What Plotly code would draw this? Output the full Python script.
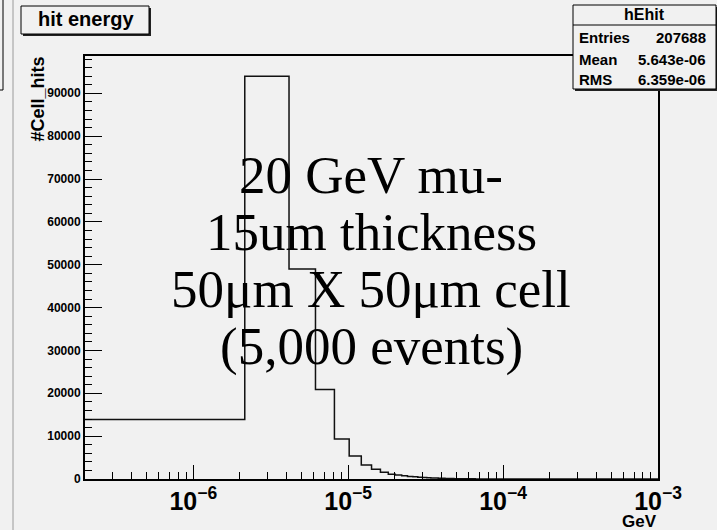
import plotly.graph_objects as go

# ---------------- data ----------------
bin_width = 2.0e-6        # GeV, histogram bin width
bin_low = 1.5e-7
counts = [13900, 94000, 49000, 20900, 9330, 5360, 3270, 2260, 1560, 1100,
          950, 760, 610, 500, 410, 340, 285, 240, 205, 175,
          150, 130, 113, 98, 86, 76, 67, 59, 52, 46,
          41, 37, 33, 29, 26, 23, 21, 19, 17, 15,
          13, 12, 11, 10, 9, 8, 7, 6, 6, 5,
          5, 4, 4, 3, 3, 3, 2, 2, 2, 2, 0]
x_axis_min = 2e-7
x_axis_max = 1e-3
y_axis_max = 98700
y_tick_vals = [0, 10000, 20000, 30000, 40000, 50000, 60000, 70000, 80000, 90000]
stats_name = "hEhit"
stats_rows = [("Entries", "207688"), ("Mean", "5.643e-06"), ("RMS", "6.359e-06")]
title_text = "hit energy"
x_title = "GeV"
y_title = "#Cell_hits"
big_text = ["20 GeV mu-", "15um thickness", "50\u03bcm X 50\u03bcm cell", "(5,000 events)"]

# ---------------- build step outline ----------------
edges = [bin_low + i * bin_width for i in range(len(counts) + 1)]
xs = [max(e, x_axis_min) for e in edges[:-1]] + [x_axis_max]
xs[0] = x_axis_min
ys = counts + [counts[-1]]

BG = "#f1f1f1"
L, R, T, B = 85, 658, 56, 479
W, H = R - L, B - T
def px(x):
    return (x - L) / W
def py(y):
    return (B - y) / H

fig = go.Figure()
fig.add_trace(go.Scatter(x=xs, y=ys, mode="lines", line=dict(shape="hv", color="#111111", width=1.5),
                         hoverinfo="skip", showlegend=False))

sans = "Liberation Sans, Arial, sans-serif"
serif = "Liberation Serif, Times New Roman, serif"

fig.update_layout(
    width=717, height=530,
    margin=dict(l=L, r=717 - R, t=T, b=530 - B),
    paper_bgcolor=BG, plot_bgcolor=BG,
    showlegend=False,
    xaxis=dict(type="log", range=[-6.69897, -3], dtick=1, exponentformat="power", showexponent="all",
               showgrid=False, zeroline=False, showline=True, mirror=True, linecolor="black", linewidth=1.5,
               ticks="inside", ticklen=14, tickcolor="black", tickwidth=1,
               minor=dict(dtick="D1", ticks="inside", ticklen=7, tickcolor="black", showgrid=False),
               tickfont=dict(family=sans, size=20, color="black", weight="bold")),
    yaxis=dict(range=[0, y_axis_max], tickvals=y_tick_vals, ticktext=[str(v) for v in y_tick_vals],
               showgrid=False, zeroline=False, showline=True, mirror=True, linecolor="black", linewidth=2,
               ticks="inside", ticklen=17, tickcolor="black", tickwidth=1,
               minor=dict(dtick=2000, tick0=0, ticks="inside", ticklen=7, tickcolor="black", showgrid=False),
               tickfont=dict(family=sans, size=12, color="black", weight="bold")),
)

shapes = []
annotations = []

# left decorations (neighbouring pad borders)
shapes.append(dict(type="line", xref="paper", yref="paper", x0=px(13), x1=px(13), y0=py(0), y1=py(530),
                   line=dict(color="#9a9a9a", width=1), layer="above"))
shapes.append(dict(type="line", xref="paper", yref="paper", x0=px(3), x1=px(3), y0=py(0), y1=py(90),
                   line=dict(color="black", width=1), layer="above"))
shapes.append(dict(type="line", xref="paper", yref="paper", x0=px(0), x1=px(3), y0=py(90), y1=py(90),
                   line=dict(color="black", width=1), layer="above"))

# title box (with shadow)
shapes.append(dict(type="rect", xref="paper", yref="paper", x0=px(23), x1=px(151), y0=py(36), y1=py(8),
                   fillcolor="#222222", line=dict(width=0), layer="above"))
shapes.append(dict(type="rect", xref="paper", yref="paper", x0=px(21), x1=px(149), y0=py(34), y1=py(6),
                   fillcolor=BG, line=dict(color="black", width=1), layer="above"))
annotations.append(dict(text=title_text, xref="paper", yref="paper", x=px(86), y=py(19),
                        xanchor="center", yanchor="middle", showarrow=False,
                        font=dict(family=sans, size=20, color="black", weight="bold")))

# stats box
shapes.append(dict(type="rect", xref="paper", yref="paper", x0=px(575), x1=px(718), y0=py(91), y1=py(7),
                   fillcolor="#222222", line=dict(width=0), layer="above"))
shapes.append(dict(type="rect", xref="paper", yref="paper", x0=px(573), x1=px(716), y0=py(89), y1=py(5),
                   fillcolor=BG, line=dict(color="black", width=1), layer="above"))
shapes.append(dict(type="line", xref="paper", yref="paper", x0=px(573), x1=px(716), y0=py(25), y1=py(25),
                   line=dict(color="black", width=1), layer="above"))
annotations.append(dict(text=stats_name, xref="paper", yref="paper", x=px(644), y=py(15),
                        xanchor="center", yanchor="middle", showarrow=False,
                        font=dict(family=sans, size=16, color="black", weight="bold")))
for i, (k, v) in enumerate(stats_rows):
    yy = py(38 + 21 * i)
    annotations.append(dict(text=k, xref="paper", yref="paper", x=px(577), y=yy, xanchor="left",
                            yanchor="middle", showarrow=False,
                            font=dict(family=sans, size=15, color="black", weight="bold")))
    annotations.append(dict(text=v, xref="paper", yref="paper", x=px(708), y=yy, xanchor="right",
                            yanchor="middle", showarrow=False,
                            font=dict(family=sans, size=15, color="black", weight="bold")))

# axis titles
annotations.append(dict(text=x_title, xref="paper", yref="paper", x=px(659), y=py(521), xanchor="right",
                        yanchor="middle", showarrow=False,
                        font=dict(family=sans, size=17, color="black", weight="bold")))
annotations.append(dict(text=y_title, xref="paper", yref="paper", x=px(37), y=py(55), xanchor="center",
                        yanchor="top", textangle=-90, showarrow=False,
                        font=dict(family=sans, size=18, color="black", weight="bold")))

# big overlaid text
for i, line in enumerate(big_text):
    annotations.append(dict(text=line, xref="paper", yref="paper", x=px(371), y=py(175 + 57 * i),
                            xanchor="center", yanchor="middle", showarrow=False,
                            font=dict(family=serif, size=53, color="black")))

fig.update_layout(shapes=shapes, annotations=annotations)
fig.write_html("out.html")
